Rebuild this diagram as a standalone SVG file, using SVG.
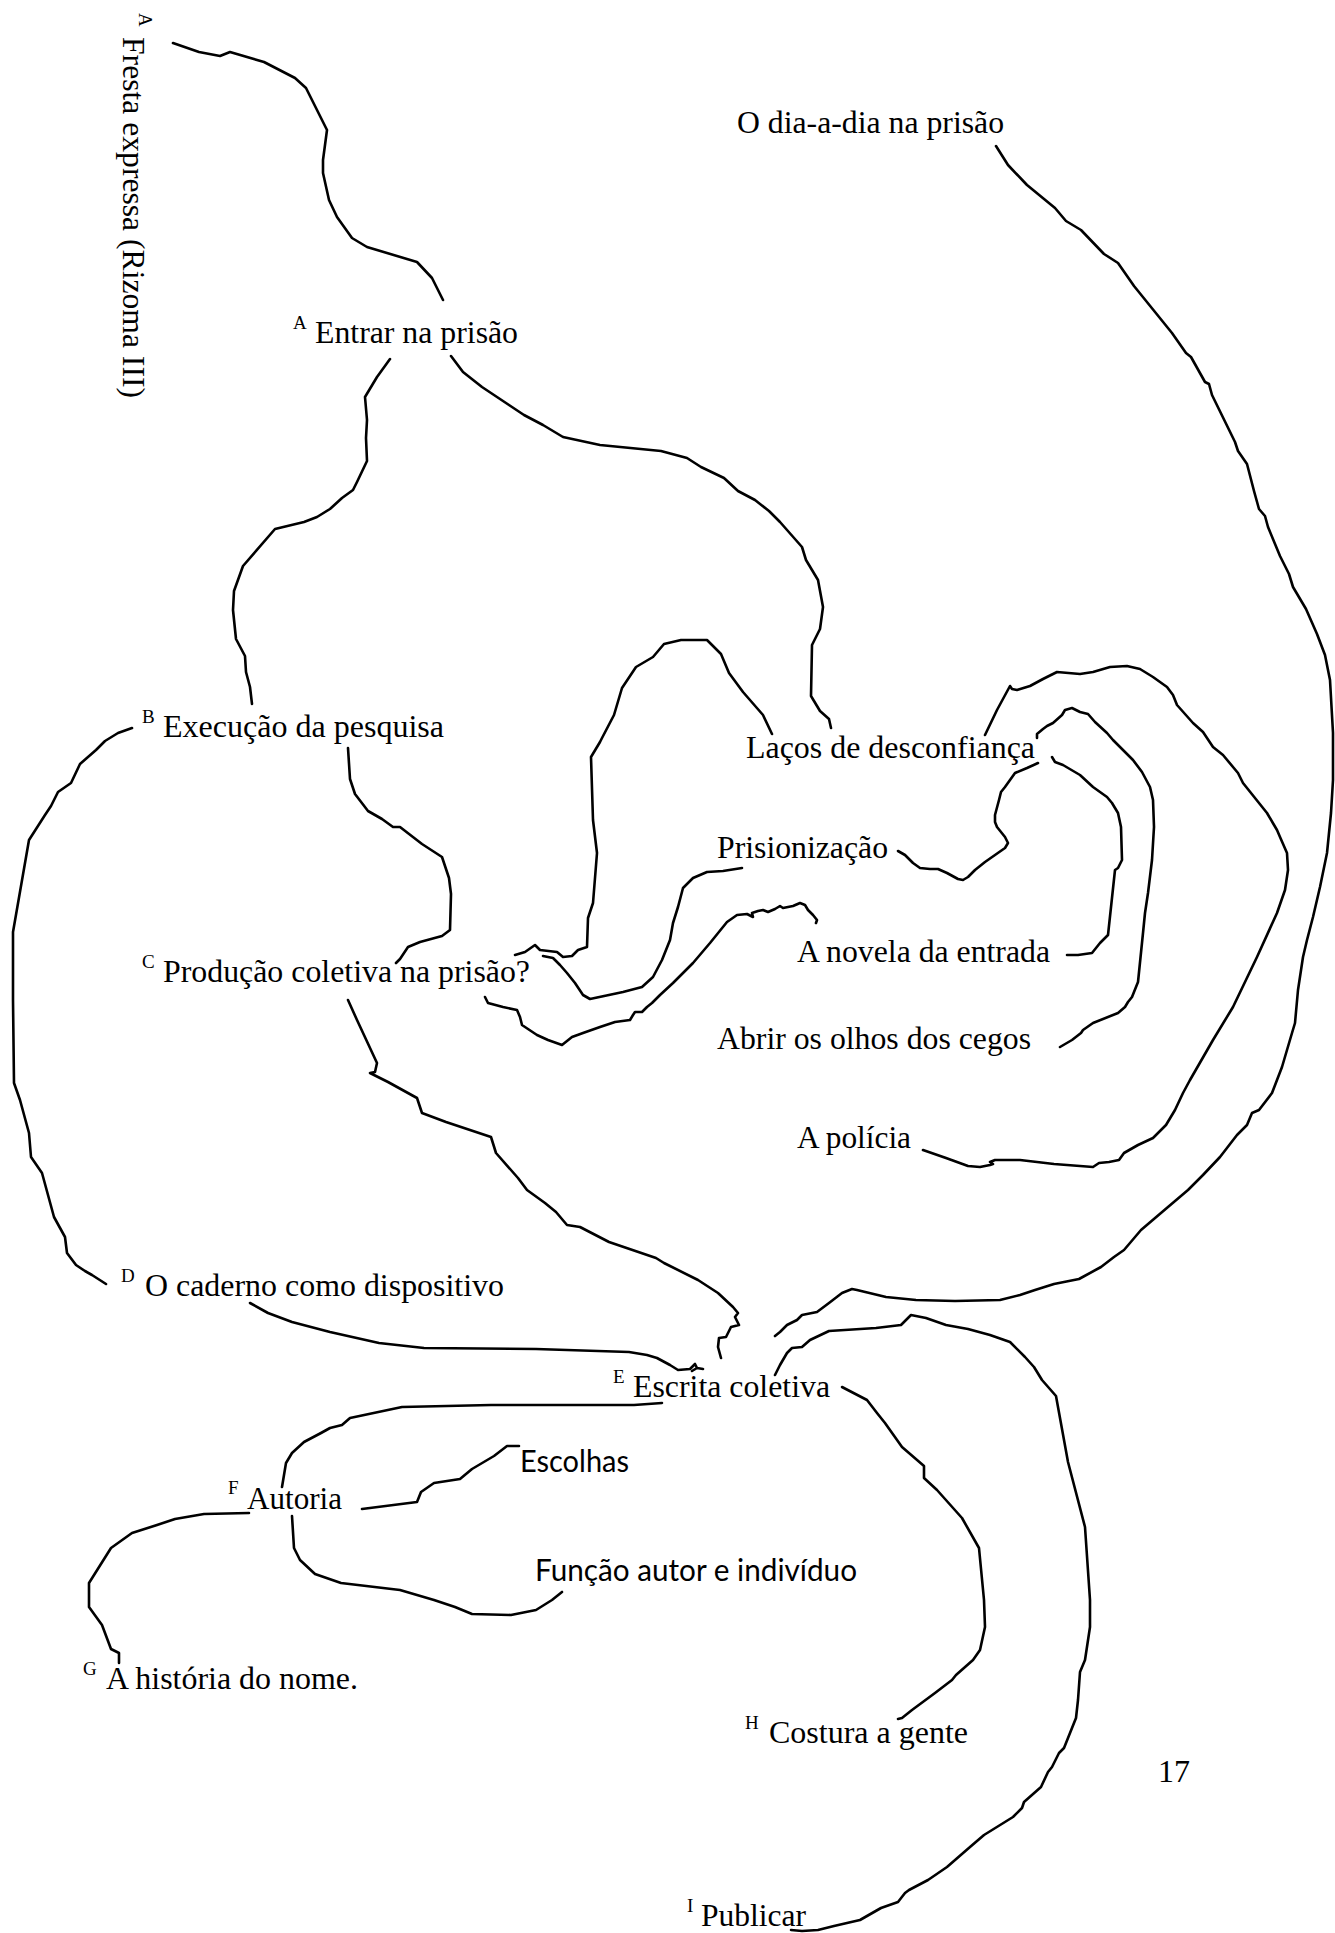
<svg xmlns="http://www.w3.org/2000/svg" width="1335" height="1933" viewBox="0 0 1335 1933">
<style>
  .t { font-family: "Liberation Serif", "Times New Roman", serif; font-size: 32px; fill: #000; }
  .sup { font-family: "Liberation Serif", "Times New Roman", serif; font-size: 19px; fill: #000; }
  .sans { font-family: Lato, "Open Sans", sans-serif; font-size: 30px; fill: #000; }
  .c { fill: none; stroke: #000; stroke-width: 2.6; stroke-linejoin: round; stroke-linecap: round; }
</style>
<rect width="1335" height="1933" fill="#fff"/>

<!-- hand-drawn connectors -->
<g id="connectors">
  <path class="c" d="M173,43 L199,52 220,56 230,52 264,62 295,78 306,88 327,130 323,160 323,173 329,200 337,217 352,238 367,247 417,262 432,278 443,300"/>
  <path class="c" d="M390,359 L377,377 365,397 367,420 366,438 367,461 357,482 353,490 342,498 330,509 317,517 304,522 275,529 243,566 234,591 233,610 236,639 245,656 246,672 250,687 252,704"/>
  <path class="c" d="M451,356 L463,372 482,387 497,397 509,405 524,415 543,425 563,437 600,445 661,451 687,458 701,467 724,478 738,491 755,500 769,511 780,522 802,547 806,560 818,580 823,607 820,629 812,645 811,696 820,711 829,719 831,728"/>
  <path class="c" d="M772,734 L763,715 743,692 729,673 721,654 707,640 681,640 664,644 653,657 636,667 622,688 614,715 602,738 600,742 591,757 593,820 597,853 593,903 588,918 587,947 578,950 572,956 563,957 557,952 540,950 535,945 525,952 515,955"/>
  <path class="c" d="M742,868 L723,871 707,872 693,878 683,888 678,907 673,923 670,940 662,960 653,977 642,987 623,992 590,999 583,995 575,983 567,973 560,965 553,958 543,956"/>
  <path class="c" d="M485,997 L488,1003 503,1007 517,1010 520,1017 522,1025 537,1035 548,1040 562,1045 572,1037 583,1033 600,1027 615,1022 630,1020 633,1015 635,1012 642,1012 647,1007 652,1003 660,995 673,983 693,963 710,943 727,922 737,915 747,914 753,917 752,913 758,911 763,910 768,912 775,909 780,906 783,908 788,907 793,906 800,903 805,905 808,910 813,915 817,920 816,923"/>
  <path class="c" d="M348,748 L350,779 355,794 368,811 382,819 393,827 400,827 422,844 442,857 449,878 451,894 450,930 442,936 420,942 408,947 400,959 396,963"/>
  <path class="c" d="M132,728 L118,733 105,741 96,750 80,764 71,783 58,792 51,806 45,815 29,840 13,932 13,1000 14,1083 20,1100 29,1133 31,1157 42,1173 54,1217 65,1237 67,1253 76,1265 85,1271 92,1275 106,1284"/>
  <path class="c" d="M348,1000 L357,1020 377,1063 375,1072 370,1073 388,1082 417,1098 422,1113 446,1122 491,1137 496,1153 518,1178 527,1190 545,1203 556,1212 567,1225 580,1227 609,1242 656,1258 664,1263 698,1280 718,1293 733,1307 738,1313 735,1317 739,1325 731,1327 726,1337 719,1338 718,1347 721,1358"/>
  <path class="c" d="M250,1303 L268,1313 292,1322 330,1332 379,1343 424,1348 536,1349 629,1352 647,1355 657,1358 670,1365 678,1370 690,1369 695,1364 697,1368 703,1369 M692,1371 L697,1368"/>
  <path class="c" d="M662,1403 L634,1405 491,1405 402,1407 350,1418 342,1425 330,1428 321,1433 304,1442 292,1453 286,1463 282,1487"/>
  <path class="c" d="M362,1509 L417,1502 421,1492 434,1483 460,1479 472,1469 494,1456 507,1446 519,1446"/>
  <path class="c" d="M292,1516 L294,1548 300,1560 315,1574 341,1583 400,1590 434,1600 455,1607 472,1614 511,1615 536,1610 552,1600 562,1592"/>
  <path class="c" d="M249,1513 L204,1514 175,1519 157,1525 132,1533 111,1548 89,1583 89,1607 102,1625 111,1649 119,1653 119,1663"/>
  <path class="c" d="M842,1387 L867,1400 877,1413 885,1423 902,1447 924,1466 924,1478 937,1490 962,1518 979,1548 984,1600 985,1627 980,1650 973,1660 956,1675 952,1680 935,1693 912,1710 902,1718 898,1719"/>
  <path class="c" d="M775,1375 L780,1365 787,1353 792,1348 802,1347 810,1340 829,1331 876,1328 901,1325 908,1318 911,1315 926,1318 946,1325 968,1329 990,1335 1010,1342 1025,1357 1034,1367 1042,1380 1056,1396 1068,1462 1085,1527 1090,1600 1090,1627 1085,1660 1080,1672 1078,1700 1076,1718 1064,1748 1059,1753 1052,1767 1048,1772 1041,1787 1024,1802 1022,1808 1013,1817 984,1835 970,1847 947,1867 928,1880 909,1890 905,1893 898,1902 881,1908 860,1920 834,1926 818,1930 802,1931 791,1930"/>
  <path class="c" d="M996,146 L1008,165 1027,185 1055,208 1066,221 1081,230 1104,254 1118,263 1134,286 1172,333 1186,353 1191,357 1205,382 1209,384 1212,395 1235,442 1238,451 1247,464 1254,491 1259,509 1265,516 1268,527 1280,556 1289,574 1293,587 1306,609 1317,634 1325,655 1330,680 1333,733 1333,780 1331,813 1327,853 1320,887 1313,917 1307,940 1303,957 1298,990 1295,1023 1292,1033 1282,1067 1277,1080 1272,1093 1259,1110 1252,1113 1247,1125 1237,1135 1220,1157 1203,1175 1188,1190 1168,1207 1141,1230 1124,1250 1114,1257 1101,1267 1079,1279 1054,1284 1035,1290 1020,1295 1000,1300 955,1301 916,1300 886,1297 857,1290 852,1289 842,1293 829,1303 817,1312 802,1315 797,1320 787,1325 780,1332 775,1336"/>
  <path class="c" d="M985,735 L997,710 1010,686 1012,689 1017,690 1030,686 1043,679 1057,672 1080,674 1093,672 1110,667 1127,666 1140,669 1153,677 1167,687 1173,695 1177,705 1193,723 1203,732 1213,747 1223,755 1238,773 1243,783 1267,813 1277,830 1280,837 1287,853 1288,870 1285,890 1277,913 1257,957 1233,1007 1213,1040 1190,1080 1183,1093 1175,1110 1166,1125 1153,1138 1138,1145 1124,1153 1119,1160 1109,1162 1099,1163 1093,1167 1054,1164 1020,1160 995,1160 990,1162 993,1164 990,1165 980,1167 968,1166 946,1158 923,1150"/>
  <path class="c" d="M1037,738 L1037,734 1043,729 1047,726 1053,723 1062,715 1065,710 1072,708 1080,712 1088,714 1095,722 1107,733 1113,740 1123,750 1133,760 1142,772 1150,787 1153,800 1154,827 1152,860 1148,893 1145,913 1143,933 1138,982 1132,997 1128,1002 1125,1007 1118,1013 1093,1023 1083,1030 1081,1033 1072,1040 1060,1047"/>
  <path class="c" d="M1052,757 L1055,762 1063,765 1080,775 1093,787 1107,797 1112,803 1118,813 1121,827 1122,860 1118,868 1115,870 1108,935 1100,943 1092,953 1078,955 1067,955"/>
  <path class="c" d="M1038,763 L1027,768 1015,773 1010,780 1005,787 1001,792 999,800 995,815 995,822 997,827 1005,837 1008,843 1005,848 995,855 985,862 975,870 968,877 963,880 958,879 947,873 938,869 930,869 920,868 913,863 905,855 898,851"/>
</g>

<!-- nodes -->
<g id="node-fresta" transform="translate(123,0) rotate(90)">
  <text class="sup" x="13" y="-16">A</text>
  <text class="t" x="37" y="0" font-size="35" textLength="361" lengthAdjust="spacingAndGlyphs">Fresta expressa (Rizoma III)</text>
</g>
<g id="node-entrar">
  <text class="sup" x="293" y="329">A</text>
  <text class="t" x="315" y="343" textLength="203" lengthAdjust="spacingAndGlyphs">Entrar na prisão</text>
</g>
<g id="node-diadia">
  <text class="t" x="737" y="133" textLength="267" lengthAdjust="spacingAndGlyphs">O dia-a-dia na prisão</text>
</g>
<g id="node-execucao">
  <text class="sup" x="142" y="723">B</text>
  <text class="t" x="163" y="737" textLength="281" lengthAdjust="spacingAndGlyphs">Execução da pesquisa</text>
</g>
<g id="node-lacos">
  <text class="t" x="746" y="758" textLength="289" lengthAdjust="spacingAndGlyphs">Laços de desconfiança</text>
</g>
<g id="node-prisionizacao">
  <text class="t" x="717" y="858" textLength="171" lengthAdjust="spacingAndGlyphs">Prisionização</text>
</g>
<g id="node-producao">
  <text class="sup" x="142" y="968">C</text>
  <text class="t" x="163" y="982" textLength="367" lengthAdjust="spacingAndGlyphs">Produção coletiva na prisão?</text>
</g>
<g id="node-novela">
  <text class="t" x="797" y="962" textLength="253" lengthAdjust="spacingAndGlyphs">A novela da entrada</text>
</g>
<g id="node-abrir">
  <text class="t" x="717" y="1049" textLength="314" lengthAdjust="spacingAndGlyphs">Abrir os olhos dos cegos</text>
</g>
<g id="node-policia">
  <text class="t" x="797" y="1148" textLength="114" lengthAdjust="spacingAndGlyphs">A polícia</text>
</g>
<g id="node-caderno">
  <text class="sup" x="121" y="1282">D</text>
  <text class="t" x="145" y="1296" textLength="359" lengthAdjust="spacingAndGlyphs">O caderno como dispositivo</text>
</g>
<g id="node-escrita">
  <text class="sup" x="613" y="1383">E</text>
  <text class="t" x="633" y="1397" textLength="197" lengthAdjust="spacingAndGlyphs">Escrita coletiva</text>
</g>
<g id="node-escolhas">
  <text class="sans" x="520" y="1472" textLength="109" lengthAdjust="spacingAndGlyphs">Escolhas</text>
</g>
<g id="node-autoria">
  <text class="sup" x="228" y="1494">F</text>
  <text class="t" x="247" y="1509" textLength="95" lengthAdjust="spacingAndGlyphs">Autoria</text>
</g>
<g id="node-funcao">
  <text class="sans" x="535" y="1581" textLength="322" lengthAdjust="spacingAndGlyphs">Função autor e indivíduo</text>
</g>
<g id="node-historia">
  <text class="sup" x="83" y="1675">G</text>
  <text class="t" x="106" y="1689" textLength="252" lengthAdjust="spacingAndGlyphs">A história do nome.</text>
</g>
<g id="node-costura">
  <text class="sup" x="745" y="1729">H</text>
  <text class="t" x="769" y="1743" textLength="199" lengthAdjust="spacingAndGlyphs">Costura a gente</text>
</g>
<g id="node-publicar">
  <text class="sup" x="687" y="1912">I</text>
  <text class="t" x="701" y="1926" textLength="105" lengthAdjust="spacingAndGlyphs">Publicar</text>
</g>
<g id="page-number">
  <text class="t" x="1158" y="1782">17</text>
</g>
</svg>
